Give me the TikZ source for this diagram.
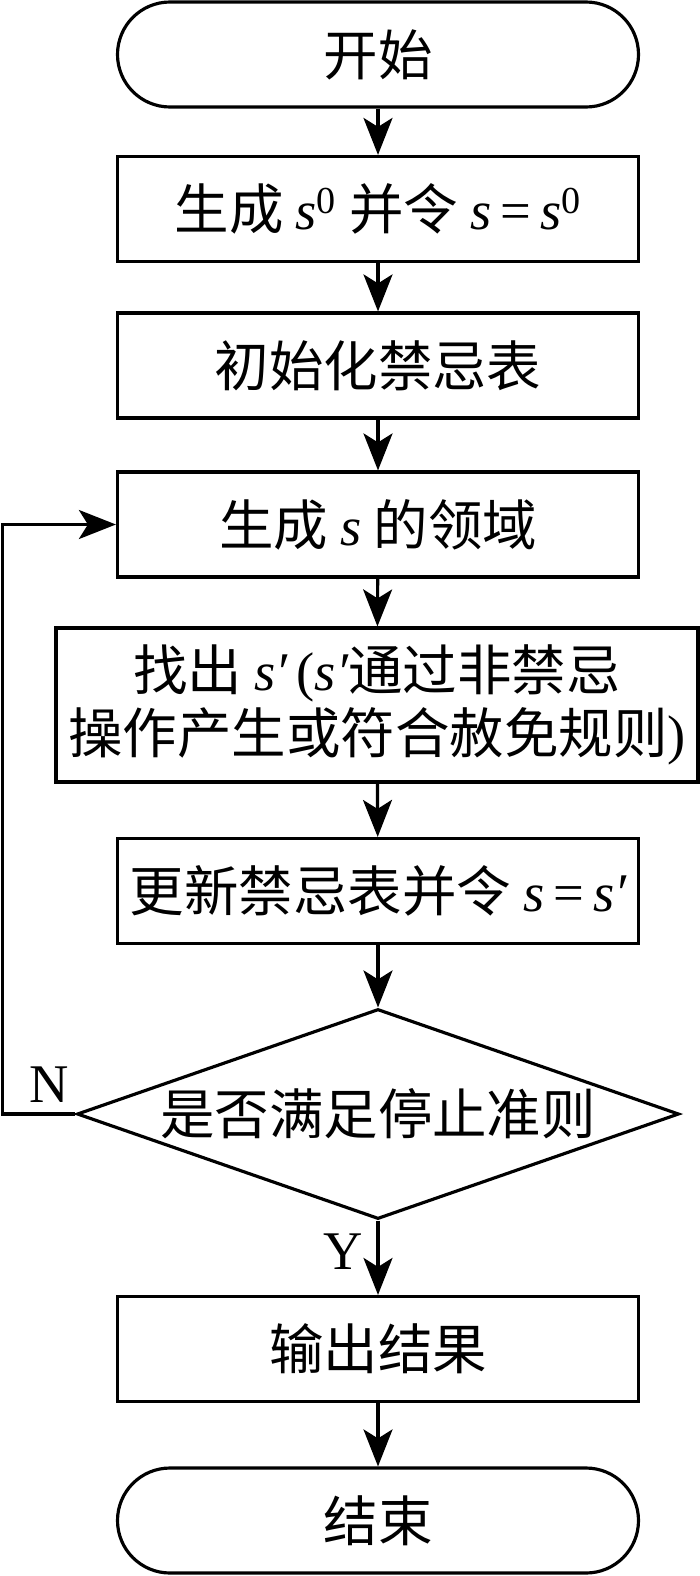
\documentclass[tikz,border=0pt]{standalone}
\usepackage{fontspec}
\setmainfont{Liberation Serif}
\newfontfamily\tms{Liberation Serif}
\newfontfamily\cjk{Noto Sans CJK SC}
\usepackage{tikz}
\usetikzlibrary{shapes, arrows.meta, calc}
\usetikzlibrary{shapes.geometric, positioning}
\tikzstyle{arrow} = [line width=1.8pt, -{Stealth[length=7.4mm, width=5.8mm, inset=1.8mm]}]
\tikzstyle{process} = [rectangle, draw, line width=1.8pt, minimum width=104.2mm, minimum height=21mm, inner sep=0pt, align=center, font=\cjk\fontsize{31pt}{36pt}\selectfont]
\tikzstyle{terminal} = [process, rounded corners=10.5mm]
\tikzstyle{decision} = [diamond, draw, line width=1.8pt, minimum width=120.4mm, minimum height=42mm, aspect=2.87, inner sep=0pt, font=\cjk\fontsize{31pt}{36pt}\selectfont]
\tikzstyle{yesno} = [font=\tms\fontsize{31pt}{36pt}\selectfont, inner sep=0pt]
\newcommand{\svar}{{\tms\itshape s}}
\newcommand{\szero}{\svar\textsuperscript{\tms 0}}
\newcommand{\sprime}{\svar{\tms\itshape ′}}

\begin{document}
\begin{tikzpicture}
            \useasboundingbox (0,0) rectangle (140mm, -315.2mm);

            \node [terminal] (start) at (75.6mm, -10.9mm) {开始};
            \node [process] (gen) at (75.6mm, -41.8mm) {生成 \szero\ 并令 \svar\,{\tms =}\,\szero};
            \node [process] (init) at (75.6mm, -73.1mm) {初始化禁忌表};
            \node [process] (neigh) at (75.6mm, -104.9mm) {生成 \svar\ 的领域};
            \node [process, minimum width=128.4mm, minimum height=30.8mm] (find) at (75.4mm, -141mm) {找出 \sprime\,{\tms (}{\sprime}通过非禁忌\\操作产生或符合赦免规则{\tms )}};
            \node [process] (update) at (75.6mm, -178.2mm) {更新禁忌表并令 \svar\,{\tms =}\,\sprime};
            \node [decision] (stop) at (75.6mm, -222.8mm) {是否满足停止准则};
            \node [process] (output) at (75.6mm, -269.8mm) {输出结果};
            \node [terminal] (finish) at (75.6mm, -304.1mm) {结束};

            \draw [arrow] (start) -- (gen);
            \draw [arrow] (gen) -- (init);
            \draw [arrow] (init) -- (neigh);
            \draw [arrow] (neigh) -- (find);
            \draw [arrow] (find) -- (update);
            \draw [arrow] (update) -- (stop);
            \draw [arrow] (stop) -- (output);
            \draw [arrow] (output) -- (finish);

            % loop back when the stop test fails
            \coordinate (loop) at (0.5mm, -222.8mm);
            \draw [arrow] (stop.west) -- (loop) |- (neigh.west);

            \node [yesno] (no) at (9.8mm, -217mm) {N};
            \node [yesno] (yes) at (68.6mm, -250.4mm) {Y};
          \end{tikzpicture}
\end{document}
